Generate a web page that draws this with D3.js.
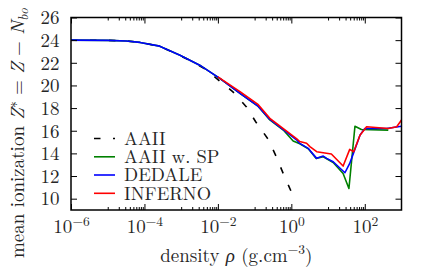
<!DOCTYPE html>
<html><head><meta charset="utf-8">
<script src="https://cdn.jsdelivr.net/npm/d3@7"></script>
<style>
html,body{margin:0;padding:0;background:#fff;}
svg{display:block;}
</style></head><body>
<svg id="c" width="435" height="272"></svg>
<script>
// ---- data ----
const xTickExponents = ["−6","−4","−2","0","2"];
const xMajorTicks = [1e-6, 1e-4, 1e-2, 1, 1e2];
const xMinorDecades = [1e-5, 1e-3, 1e-1, 1e1];
const yTicks = [10, 12, 14, 16, 18, 20, 22, 24, 26];

const seriesNames = ["AAII", "AAII w. SP", "DEDALE", "INFERNO"];

const aaiiRho = [1e-6, 1e-5, 3.2e-5, 7.6e-5, 2.6e-4, 9.3e-4, 1.74e-3, 4.5e-3, 0.0257, 0.06, 0.107, 0.234, 0.38, 0.6, 1.0, 1.12];
const aaiiZ   = [24.0, 23.98, 23.93, 23.8, 23.46, 22.64, 22.2, 21.45, 19.43, 18.1, 16.79, 15.25, 13.78, 12.23, 10.6, 9.95];

const spRho = [1e-6, 1e-5, 3.2e-5, 7.6e-5, 2.6e-4, 9.3e-4, 3.2e-3, 1.15e-2, 0.04, 0.126, 0.26, 0.63, 1.12, 1.7, 2.9, 4.7, 7.4, 13.8, 25.7, 37, 54, 81, 437];
const spZ   = [24.0, 23.98, 23.93, 23.8, 23.47, 22.67, 21.79, 20.6, 19.3, 18.15, 16.95, 16.0, 15.1, 14.85, 14.4, 13.56, 13.7, 13.2, 12.23, 10.9, 16.4, 16.11, 16.05];

const dedaleRho = [1e-6, 1e-5, 3.2e-5, 7.6e-5, 2.6e-4, 9.3e-4, 3.2e-3, 1.15e-2, 0.04, 0.126, 0.26, 0.63, 1.38, 1.7, 2.9, 4.9, 7.4, 9.1, 13.8, 28.8, 38.9, 49, 74, 100, 389, 1000];
const dedaleZ   = [24.0, 23.98, 23.93, 23.8, 23.47, 22.67, 21.79, 20.6, 19.3, 18.15, 17.0, 16.05, 15.2, 14.88, 14.44, 13.56, 13.76, 13.56, 13.26, 12.29, 13.11, 14.0, 15.61, 16.2, 16.2, 16.4];

const infernoRho = [0.01, 0.04, 0.126, 0.26, 0.63, 1.38, 1.7, 2.6, 3.2, 4.9, 12.3, 25.7, 38.9, 50, 74, 112, 437, 741, 1000];
const infernoZ   = [20.75, 19.45, 18.3, 17.1, 16.15, 15.3, 15.05, 14.9, 14.6, 14.15, 13.95, 12.88, 14.35, 14.15, 15.6, 16.35, 16.2, 16.35, 16.95];

// ---- layout ----
const FONT = '"Latin Modern Roman","Liberation Serif",serif';
const L = 71, R = 401.5, T = 17.5, B = 210;
const svg = d3.select("#c");
const x = d3.scaleLog().domain([1e-6, 1e3]).range([L, R]);
const y = d3.scaleLinear().domain([9, 26]).range([B, T]);

const colors = ["#000000", "#008000", "#0000ff", "#ff0000"];
const series = [
  {rho: aaiiRho, z: aaiiZ, dash: "6.5,12.5"},
  {rho: spRho, z: spZ, dash: null},
  {rho: dedaleRho, z: dedaleZ, dash: null},
  {rho: infernoRho, z: infernoZ, dash: null}
];

svg.append("clipPath").attr("id","clip").append("rect")
  .attr("x", L).attr("y", T).attr("width", R-L).attr("height", B-T);

const line = d3.line().x(d => x(d[0])).y(d => y(d[1]));
const gLines = svg.append("g").attr("clip-path","url(#clip)");
series.forEach((s, i) => {
  const pts = s.rho.map((r, j) => [r, s.z[j]]);
  gLines.append("path").attr("d", line(pts))
    .attr("fill","none").attr("stroke", colors[i]).attr("stroke-width", 1.6)
    .attr("stroke-linejoin","round")
    .attr("stroke-dasharray", s.dash);
});

// ---- axes ----
const minorTicks = [];
xMinorDecades.forEach(d => { for (let k = 1; k <= 9; k++) minorTicks.push(d * k); });

function styleAxis(g){
  g.select(".domain").remove();
  g.selectAll("line").attr("stroke","#000").attr("stroke-width",1);
}
svg.append("g").attr("transform",`translate(0,${B})`)
  .call(d3.axisBottom(x).tickValues(minorTicks).tickSizeInner(-3).tickSizeOuter(0).tickFormat(""))
  .call(styleAxis);
svg.append("g").attr("transform",`translate(0,${T})`)
  .call(d3.axisTop(x).tickValues(minorTicks).tickSizeInner(-3).tickSizeOuter(0).tickFormat(""))
  .call(styleAxis);
const xb = svg.append("g").attr("transform",`translate(0,${B})`)
  .call(d3.axisBottom(x).tickValues(xMajorTicks).tickSizeInner(-6).tickSizeOuter(0).tickFormat(""))
  .call(styleAxis);
svg.append("g").attr("transform",`translate(0,${T})`)
  .call(d3.axisTop(x).tickValues(xMajorTicks).tickSizeInner(-6).tickSizeOuter(0).tickFormat(""))
  .call(styleAxis);

xb.selectAll(".tick").each(function(d, i){
  const t = d3.select(this).select("text")
    .attr("y", 23.3).attr("dy", null)
    .attr("font-size", 19).attr("text-anchor","middle").attr("fill","#262626")
    .style("font-family", FONT);
  t.text(null);
  t.append("tspan").text("10");
  t.append("tspan").attr("dy", -7).attr("font-size", 13.5).text(xTickExponents[i]);
});

const yl = svg.append("g").attr("transform",`translate(${L},0)`)
  .call(d3.axisLeft(y).tickValues(yTicks).tickSizeInner(-6).tickSizeOuter(0).tickFormat(d3.format("d")))
  .call(styleAxis);
yl.selectAll("text").attr("x", -11.5).attr("dy","0.33em").attr("font-size",19).attr("fill","#262626")
  .style("font-family", FONT);
svg.append("g").attr("transform",`translate(${R},0)`)
  .call(d3.axisRight(y).tickValues(yTicks).tickSizeInner(-6).tickSizeOuter(0).tickFormat(""))
  .call(styleAxis);

// frame
svg.append("rect").attr("x",L).attr("y",T).attr("width",R-L).attr("height",B-T)
  .attr("fill","none").attr("stroke","#000").attr("stroke-width",1.5);

// ---- legend ----
const legRows = [138.5, 156.8, 175, 193.3];
seriesNames.forEach((name, i) => {
  svg.append("line").attr("x1",94).attr("x2",115).attr("y1",legRows[i]).attr("y2",legRows[i])
    .attr("stroke",colors[i]).attr("stroke-width",1.6)
    .attr("stroke-dasharray", series[i].dash);
  svg.append("text").attr("x",124).attr("y",legRows[i]+6.3)
    .attr("font-size",18.5).attr("fill","#262626").style("font-family", FONT).text(name);
});

// ---- axis labels ----
const xl = svg.append("text").attr("x",(L+R)/2).attr("y",262).attr("text-anchor","middle")
  .attr("font-size",19).attr("fill","#262626").style("font-family", FONT);
xl.append("tspan").text("density ");
xl.append("tspan").attr("font-style","italic").text("ρ");
xl.append("tspan").text(" (g.cm");
xl.append("tspan").attr("dy",-8).attr("font-size",13.5).text("−3");
xl.append("tspan").attr("dy",8).text(")");

const ylab = svg.append("text").attr("transform","translate(24,258) rotate(-90)")
  .attr("text-anchor","start").attr("font-size",19).attr("fill","#262626").style("font-family", FONT);
ylab.append("tspan").text("mean ionization ");
ylab.append("tspan").attr("font-style","italic").text("Z");
ylab.append("tspan").attr("dy",-7).attr("font-size",13.5).text("∗");
ylab.append("tspan").attr("dy",7).text(" = ");
ylab.append("tspan").attr("font-style","italic").text("Z");
ylab.append("tspan").text(" − ");
ylab.append("tspan").attr("font-style","italic").text("N");
ylab.append("tspan").attr("dy",4).attr("font-size",13.5).attr("font-style","italic").text("bo");
</script>
</body></html>
